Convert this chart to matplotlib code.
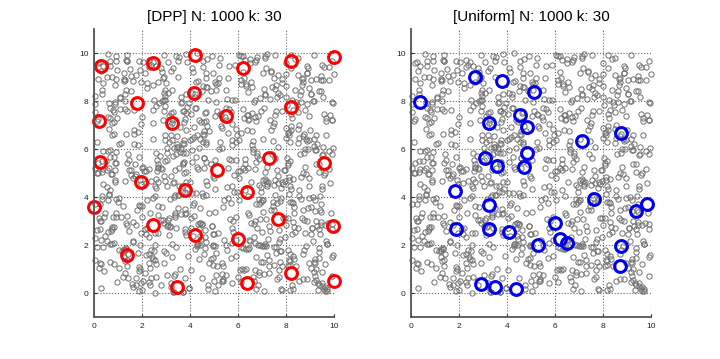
"""DPP vs uniform subset selection: 30 highlighted points over a 1000-point cloud."""

import matplotlib

matplotlib.use("Agg")
import matplotlib.pyplot as plt
import numpy as np

plt.rcParams["font.family"] = ["Liberation Sans", "DejaVu Sans"]

N_POINTS = 1000
K = 30

# highlighted subsets
dpp_x = [0.28, 2.44, 4.19, 6.22, 8.22, 10.0, 1.78, 4.17, 0.22, 3.25,
         5.50, 8.22, 7.31, 0.25, 5.11, 9.58, 1.97, 3.81, 6.39, 0.0,
         2.47, 7.67, 9.97, 4.19, 6.00, 1.39, 8.22, 3.47, 6.39, 10.0]
dpp_y = [9.46, 9.60, 9.93, 9.38, 9.65, 9.85, 7.93, 8.35, 7.18, 7.07,
         7.38, 7.74, 5.63, 5.46, 5.13, 5.40, 4.63, 4.29, 4.21, 3.57,
         2.85, 3.10, 2.79, 2.40, 2.26, 1.57, 0.85, 0.26, 0.43, 0.51]

uniform_x = [2.65, 3.79, 5.13, 4.55, 4.82, 3.27, 8.74, 7.13, 3.07, 3.60,
             4.85, 4.71, 1.82, 3.27, 7.61, 9.39, 9.83, 1.88, 3.27, 4.07,
             5.99, 6.19, 6.52, 5.30, 8.77, 8.72, 2.93, 3.52, 4.38, 0.38]
uniform_y = [8.99, 8.82, 8.38, 7.43, 6.90, 7.07, 6.68, 6.32, 5.63, 5.29,
             5.82, 5.26, 4.26, 3.65, 3.93, 3.40, 3.71, 2.65, 2.68, 2.54,
             2.93, 2.24, 2.07, 2.01, 1.96, 1.13, 0.38, 0.26, 0.18, 7.96]

ticks = [0, 2, 4, 6, 8, 10]

# the 1000-point ground set cannot be read point by point; it is a uniform
# sample on [0, 10]^2, reproduced here with a fixed seed
rng = np.random.default_rng(7)
cloud = rng.uniform(0, 10, size=(N_POINTS, 2))

panels = [
    ("DPP", dpp_x, dpp_y, "#ff0000"),
    ("Uniform", uniform_x, uniform_y, "#0000ee"),
]
lefts = [94 / 720, 411 / 720]

fig = plt.figure(figsize=(7.2, 3.59), dpi=100)
for (name, xs, ys, color), left in zip(panels, lefts):
    ax = fig.add_axes([left, 42 / 359, 240 / 720, 288 / 359])
    ax.set_xlim(0, 10)
    ax.set_ylim(-1, 11)
    ax.plot(cloud[:, 0], cloud[:, 1], "o", mfc="none", mec="#707070",
            ms=3.8, mew=0.7, clip_on=False)
    ax.plot(xs, ys, "o", mfc="none", mec=color, ms=8.5, mew=2.2, clip_on=False)
    ax.set_xticks(ticks)
    ax.set_yticks(ticks)
    ax.grid(True, linestyle=":", color="#666666", linewidth=0.8)
    ax.set_axisbelow(True)
    for side in ("top", "right"):
        ax.spines[side].set_visible(False)
    for side in ("left", "bottom"):
        ax.spines[side].set_color("#555555")
        ax.spines[side].set_linewidth(1.3)
    ax.tick_params(direction="in", length=2, labelsize=6, colors="#222222", pad=4)
    ax.set_title(f"[{name}] N: {N_POINTS} k: {K}", fontsize=11, pad=6)

fig.savefig("out.png", dpi=100)
